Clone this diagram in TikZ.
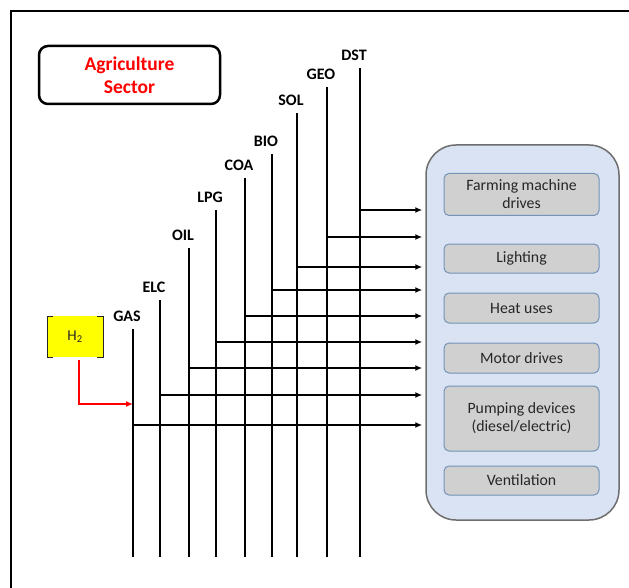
\documentclass[tikz,border=0pt]{standalone}
\usepackage{fontspec}
\setmainfont{Carlito}
\usetikzlibrary{arrows.meta,positioning}

\definecolor{secred}{HTML}{FF0000}
\definecolor{panelblue}{HTML}{DAE3F3}
\definecolor{panelgrey}{HTML}{6E6E6E}
\definecolor{usefill}{HTML}{D0D0D0}
\definecolor{useedge}{HTML}{7393B8}
\definecolor{h2yellow}{HTML}{FFFF00}
\definecolor{txtdark}{HTML}{262626}

\begin{document}
\begin{tikzpicture}[
        x=1pt, y=-1pt,
        sector/.style={
            rectangle,
            draw,
            line width=2.5pt,
            rounded corners=9pt,
            minimum width=181pt,
            minimum height=58pt,
            align=center,
            text=secred,
            font=\fontsize{19.5}{23}\selectfont\bfseries
        },
        carrier/.style={
            anchor=south,
            inner sep=0pt,
            yshift=7pt,
            xshift=-6pt,
            font=\fontsize{16}{18}\selectfont\bfseries
        },
        bus/.style={
            line width=2pt
        },
        feed/.style={
            line width=2pt,
            -{Latex[length=7pt,width=6pt]},
            shorten >=3pt
        },
        panel/.style={
            rectangle,
            draw=panelgrey,
            fill=panelblue,
            line width=1.5pt,
            rounded corners=30pt,
            minimum width=193pt,
            minimum height=375pt
        },
        enduse/.style={
            rectangle,
            draw=useedge,
            fill=usefill,
            line width=1pt,
            rounded corners=5pt,
            minimum width=155pt,
            align=center,
            text=txtdark,
            font=\fontsize{15.8}{18}\selectfont
        }
    ]

        \useasboundingbox (0,0) rectangle (629,588);

        % outer frame, cut at the right and bottom
        \draw[line width=2pt] (11,588) -- (11,11) -- (629,11);

        \node[sector] (sector) at (129.5,75) {Agriculture\\Sector};

        % end-use panel
        \node[panel] (uses) at (522.5,332.5) {};
        \node[enduse, minimum height=42pt] (farm) at (521.5,194.5) {Farming machine\\drives};
        \node[enduse, minimum height=29pt] (light) at (521.5,258.5) {Lighting};
        \node[enduse, minimum height=30pt] (heat) at (521.5,308) {Heat uses};
        \node[enduse, minimum height=30pt] (motor) at (521.5,358) {Motor drives};
        \node[enduse, minimum height=65pt] (pump) at (521.5,418.5) {Pumping devices\\(diesel/electric)};
        \node[enduse, minimum height=29pt] (vent) at (521.5,480.5) {Ventilation};

        % energy carriers
        \foreach \name/\x/\ytop/\yfeed in {GAS/133/329/425, ELC/160/300/395, OIL/189/248/368,
                LPG/216/210/342, COA/245/178/316, BIO/272/154/290, SOL/297/113/267,
                GEO/327/87/237, DST/360/68/210} {
            \coordinate (\name top) at (\x,\ytop);
            \node[carrier] (\name) at (\name top) {\name};
            \draw[bus] (\name top) -- (\x,557);
            \draw[feed] (\x,\yfeed) -- (uses.west |- 0,\yfeed);
        }

        % hydrogen
        \fill[h2yellow] (47,316) rectangle (103,357);
        \node[text=txtdark, font=\fontsize{15}{17}\selectfont] (h2) at (75,336.5) {H\textsubscript{2}};
        \draw[txtdark, line width=0.8pt] (53,316) -- (47,316) -- (47,357) -- (53,357);
        \draw[txtdark, line width=0.8pt] (97,316) -- (103,316) -- (103,357) -- (97,357);
        \coordinate (h2out) at (79,360);
        \coordinate (gasin) at (133,404);
        \draw[red, line width=2pt, -{Latex[length=7pt,width=6pt]}] (h2out) |- (gasin);

    \end{tikzpicture}
\end{document}
